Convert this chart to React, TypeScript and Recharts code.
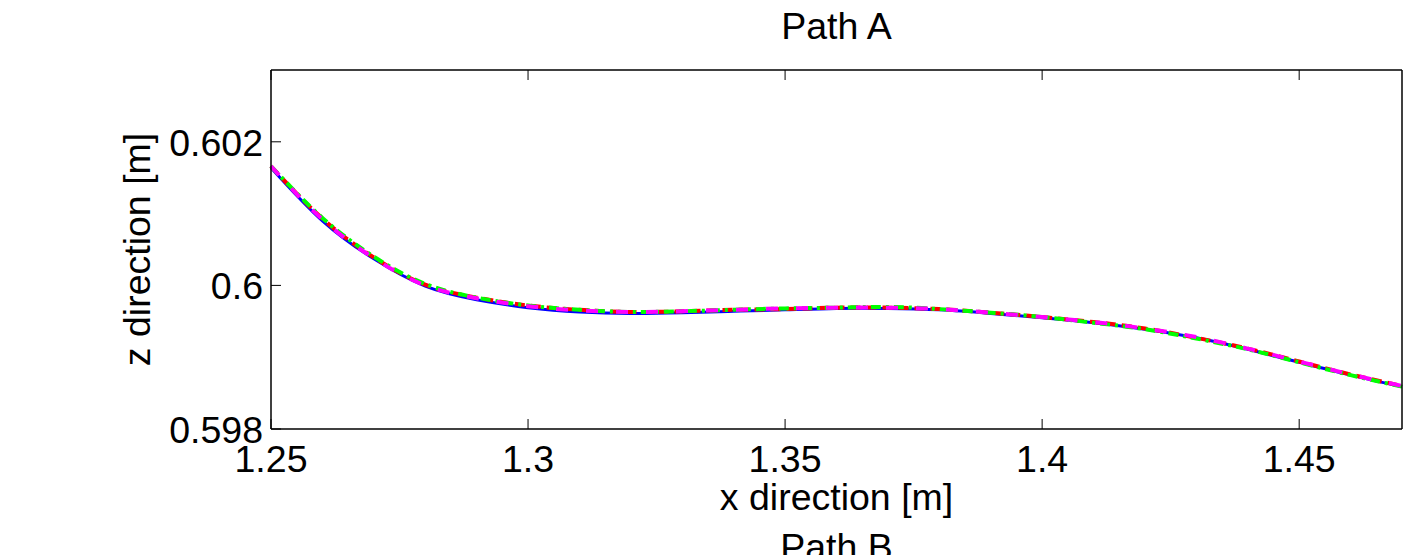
import { LineChart, Line, XAxis, YAxis, Label } from "recharts";

const xValues = [
  1.25, 1.26, 1.27, 1.28, 1.29, 1.3, 1.31, 1.32, 1.33, 1.34, 1.35, 1.36,
  1.37, 1.38, 1.39, 1.4, 1.41, 1.42, 1.43, 1.44, 1.45, 1.46, 1.47,
];

const blueZ = [
  0.60164, 0.6009, 0.60037, 0.59999, 0.5998, 0.59969, 0.59963, 0.59961,
  0.59962, 0.59964, 0.59966, 0.59968, 0.59968, 0.59966, 0.59961, 0.59955,
  0.59948, 0.59939, 0.59927, 0.59911, 0.59893, 0.59875, 0.59859,
];
const redZ = [
  0.60166, 0.60093, 0.60039, 0.60001, 0.59983, 0.59972, 0.59966, 0.59963,
  0.59964, 0.59966, 0.59967, 0.59969, 0.59969, 0.59967, 0.59962, 0.59956,
  0.59949, 0.5994, 0.59927, 0.59912, 0.59894, 0.59876, 0.5986,
];
const greenZ = [
  0.60166, 0.60094, 0.6004, 0.60002, 0.59983, 0.59972, 0.59966, 0.59963,
  0.59964, 0.59966, 0.59968, 0.59969, 0.5997, 0.59967, 0.59962, 0.59956,
  0.59948, 0.59939, 0.59926, 0.59911, 0.59893, 0.59875, 0.59859,
];
const magentaZ = [
  0.60166, 0.60092, 0.60038, 0.6, 0.59982, 0.59971, 0.59965, 0.59963,
  0.59964, 0.59966, 0.59968, 0.59969, 0.59969, 0.59967, 0.59962, 0.59956,
  0.59949, 0.5994, 0.59928, 0.59912, 0.59894, 0.59876, 0.5986,
];

const xTicks = [1.25, 1.3, 1.35, 1.4, 1.45];
const zTicks = [0.598, 0.6, 0.602];

const rows = xValues.map((x, i) => ({
  x,
  blue: blueZ[i],
  red: redZ[i],
  green: greenZ[i],
  magenta: magentaZ[i],
}));

const font = "'Liberation Sans', Arial, sans-serif";
const fs = 37.5;

const BottomTick = ({ x, y, payload }: any) => (
  <g>
    <line x1={x} y1={y} x2={x} y2={y - 10} stroke="#000" />
    <text x={x} y={y + 43} textAnchor="middle" fontSize={fs} fontFamily={font} fill="#000">
      {String(payload.value)}
    </text>
  </g>
);

const TopTick = ({ x, y }: any) => (
  <line x1={x} y1={y} x2={x} y2={y + 10} stroke="#000" />
);

const LeftTick = ({ x, y, payload }: any) => (
  <g>
    <line x1={x} y1={y} x2={x + 10} y2={y} stroke="#000" />
    <text x={x - 8} y={y + 14} textAnchor="end" fontSize={fs} fontFamily={font} fill="#000">
      {String(payload.value)}
    </text>
  </g>
);

const RightTick = ({ x, y }: any) => (
  <line x1={x} y1={y} x2={x - 10} y2={y} stroke="#000" />
);

export default function App() {
  return (
    <div style={{ position: "absolute", left: 0, top: 0, width: 1412, height: 555, background: "#fff" }}>
      <LineChart
        width={1412}
        height={555}
        data={rows}
        margin={{ top: 69, right: 9, bottom: 96, left: 191 }}
      >
        <XAxis
          dataKey="x"
          type="number"
          domain={[1.25, 1.47]}
          ticks={xTicks}
          interval={0}
          height={30}
          tickSize={0}
          tickMargin={0}
          tickLine={false}
          tick={<BottomTick />}
          axisLine={{ stroke: "#000", strokeWidth: 1.5 }}
        >
          <Label
            content={({ viewBox }: any) => (
              <g>
                <text x={viewBox.x + viewBox.width / 2} y={viewBox.y + 81} textAnchor="middle" fontSize={fs} fontFamily={font} fill="#000">
                  x direction [m]
                </text>
                <text x={viewBox.x + viewBox.width / 2} y={viewBox.y + 131} textAnchor="middle" fontSize={fs} fontFamily={font} fill="#000">
                  Path B
                </text>
              </g>
            )}
          />
        </XAxis>
        <XAxis
          xAxisId="top"
          dataKey="x"
          type="number"
          orientation="top"
          domain={[1.25, 1.47]}
          ticks={xTicks}
          interval={0}
          height={1}
          tickSize={0}
          tickMargin={0}
          tickLine={false}
          tick={<TopTick />}
          axisLine={{ stroke: "#000", strokeWidth: 1.5 }}
        >
          <Label
            content={({ viewBox }: any) => (
              <text x={viewBox.x + viewBox.width / 2} y={39} textAnchor="middle" fontSize={fs} fontFamily={font} fill="#000">
                Path A
              </text>
            )}
          />
        </XAxis>
        <YAxis
          type="number"
          domain={[0.598, 0.603]}
          ticks={zTicks}
          interval={0}
          width={80}
          tickSize={0}
          tickMargin={0}
          tickLine={false}
          tick={<LeftTick />}
          axisLine={{ stroke: "#000", strokeWidth: 1.5 }}
        >
          <Label
            content={({ viewBox }: any) => (
              <text
                x={150}
                y={viewBox.y + viewBox.height / 2}
                transform={`rotate(-90 150 ${viewBox.y + viewBox.height / 2})`}
                textAnchor="middle"
                fontSize={fs}
                fontFamily={font}
                fill="#000"
              >
                z direction [m]
              </text>
            )}
          />
        </YAxis>
        <YAxis
          yAxisId="right"
          type="number"
          orientation="right"
          domain={[0.598, 0.603]}
          ticks={zTicks}
          interval={0}
          width={1}
          tickSize={0}
          tickMargin={0}
          tickLine={false}
          tick={<RightTick />}
          axisLine={{ stroke: "#000", strokeWidth: 1.5 }}
        />
        <Line type="natural" dataKey="blue" stroke="#0000ff" strokeWidth={3} dot={false} isAnimationActive={false} />
        <Line type="natural" dataKey="red" stroke="#ff0000" strokeWidth={4} strokeDasharray="10 6" dot={false} isAnimationActive={false} />
        <Line type="natural" dataKey="green" stroke="#00ff00" strokeWidth={4} strokeDasharray="10 5 3 5" dot={false} isAnimationActive={false} />
        <Line type="natural" dataKey="magenta" stroke="#ff00ff" strokeWidth={4} strokeDasharray="12 18" dot={false} isAnimationActive={false} />
      </LineChart>
    </div>
  );
}
